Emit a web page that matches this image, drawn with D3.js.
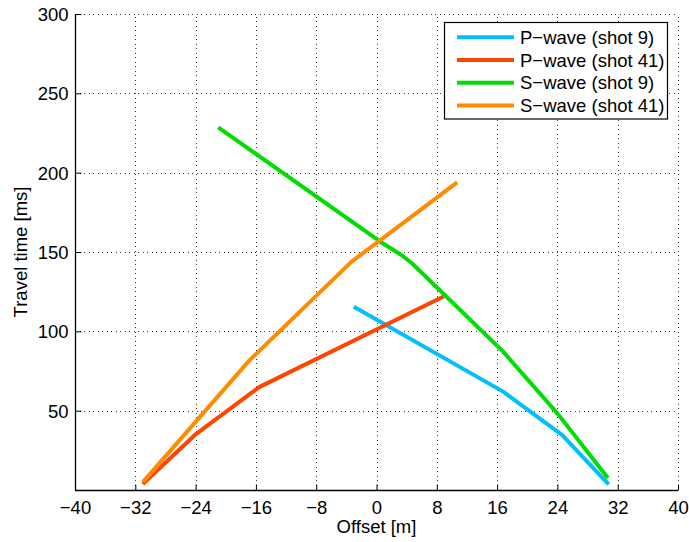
<!DOCTYPE html>
<html>
<head>
<meta charset="utf-8">
<script src="https://cdn.jsdelivr.net/npm/d3@7/dist/d3.min.js"></script>
<style>
  html, body { margin: 0; padding: 0; background: #fff; }
  svg { display: block; }
  text { font-family: "Liberation Sans", Arial, Helvetica, sans-serif; }
</style>
</head>
<body>
<svg id="chart" width="689" height="542"></svg>
<script>
// Travel-time picks: offset [m] and travel time [ms] for each wave / shot
const pShot9Offset  = [-3.0, 16.8, 24.6, 30.8];
const pShot9Time    = [115.5, 62.0, 34.7, 3.6];

const pShot41Offset = [-31.0, -24.1, -15.5, 8.9];
const pShot41Time   = [3.8, 34.7, 65.0, 122.0];

const sShot9Offset  = [-21.0, 0.5, 3.3, 4.7, 16.8, 24.0, 30.7];
const sShot9Time    = [228.6, 156.5, 148.1, 142.9, 87.2, 48.3, 7.5];

const sShot41Offset = [-31.0, -16.8, -3.3, 10.7];
const sShot41Time   = [5.0, 82.0, 143.9, 193.9];

const seriesNames  = ["P\u2212wave (shot 9)", "P\u2212wave (shot 41)", "S\u2212wave (shot 9)", "S\u2212wave (shot 41)"];
const seriesColors = ["#00BFFF", "#FF4500", "#00DD00", "#FF8C00"];

const xTicks = [-40, -32, -24, -16, -8, 0, 8, 16, 24, 32, 40];
const yTicks = [50, 100, 150, 200, 250, 300];

const series = [
  { offsets: pShot9Offset,  times: pShot9Time },
  { offsets: pShot41Offset, times: pShot41Time },
  { offsets: sShot9Offset,  times: sShot9Time },
  { offsets: sShot41Offset, times: sShot41Time }
].map((s, i) => ({
  name: seriesNames[i],
  color: seriesColors[i],
  points: s.offsets.map((x, j) => [x, s.times[j]])
}));

const FONT = 18.5;
const svg = d3.select("#chart");
const margin = { left: 75, right: 11, top: 14, bottom: 52 };
const W = 689, H = 542;

const x = d3.scaleLinear().domain([-40, 40]).range([margin.left, W - margin.right]);
const y = d3.scaleLinear().domain([0, 300]).range([H - margin.bottom, margin.top]);

const plotLeft = x.range()[0], plotRight = x.range()[1];
const plotTop = y.range()[1], plotBottom = y.range()[0];

// dotted grid
const grid = svg.append("g").attr("stroke", "#000").attr("stroke-width", 1)
  .attr("stroke-dasharray", "1,3.5").attr("shape-rendering", "crispEdges").attr("opacity", 0.8);
grid.selectAll(".vg").data(xTicks.filter(t => t !== -40)).join("line")
  .attr("x1", d => Math.round(x(d)) + 0.5).attr("x2", d => Math.round(x(d)) + 0.5)
  .attr("y1", plotBottom).attr("y2", plotTop);
grid.selectAll(".hg").data(yTicks).join("line")
  .attr("y1", d => Math.round(y(d)) + 0.5).attr("y2", d => Math.round(y(d)) + 0.5)
  .attr("x1", plotLeft).attr("x2", plotRight);

// axes with inward ticks
const xAxis = d3.axisBottom(x).tickValues(xTicks).tickSizeInner(-6).tickSizeOuter(0)
  .tickPadding(10).tickFormat(d => d < 0 ? "\u2212" + Math.abs(d) : d);
const gx = svg.append("g").attr("transform", `translate(0,${Math.round(plotBottom) + 0.5})`).call(xAxis);

const yAxis = d3.axisLeft(y).tickValues(yTicks).tickSizeInner(-6).tickSizeOuter(0).tickPadding(7);
const gy = svg.append("g").attr("transform", `translate(${Math.round(plotLeft) + 0.5},0)`).call(yAxis);

[gx, gy].forEach(g => {
  g.select(".domain").attr("stroke", "#000").attr("stroke-width", 1.3);
  g.selectAll(".tick line").attr("stroke", "#000").attr("stroke-width", 1);
  g.selectAll(".tick text").attr("fill", "#000").attr("font-size", FONT);
});
gx.select(".domain").attr("d", `M${plotLeft},0H${plotRight}`);
gy.select(".domain").attr("d", `M0,${plotBottom}V${plotTop}`);
gy.selectAll(".tick text").attr("dy", "0.35em");

// axis titles
svg.append("text").attr("x", (plotLeft + plotRight) / 2).attr("y", 533)
  .attr("text-anchor", "middle").attr("font-size", FONT).text("Offset [m]");
svg.append("text").attr("transform", `translate(27,${(plotTop + plotBottom) / 2}) rotate(-90)`)
  .attr("text-anchor", "middle").attr("font-size", FONT).text("Travel time [ms]");

// travel-time curves
const line = d3.line().x(d => x(d[0])).y(d => y(d[1]));
svg.append("g").selectAll("path").data(series).join("path")
  .attr("d", d => line(d.points))
  .attr("fill", "none")
  .attr("stroke", d => d.color)
  .attr("stroke-width", 4)
  .attr("stroke-linejoin", "round");

// legend
const legend = svg.append("g");
legend.append("rect").attr("x", 444.5).attr("y", 22.5).attr("width", 223).attr("height", 96.5)
  .attr("fill", "#fff").attr("stroke", "#000").attr("stroke-width", 1.2);
const rowY = [37.3, 60, 82.7, 105.5];
const items = legend.selectAll(".item").data(series).join("g")
  .attr("transform", (d, i) => `translate(0,${rowY[i]})`);
items.append("line").attr("x1", 457).attr("x2", 514).attr("y1", 0).attr("y2", 0)
  .attr("stroke", d => d.color).attr("stroke-width", 4);
items.append("text").attr("x", 520).attr("y", 0).attr("dy", "0.36em")
  .attr("font-size", FONT).attr("fill", "#000").text(d => d.name);
</script>
</body>
</html>
